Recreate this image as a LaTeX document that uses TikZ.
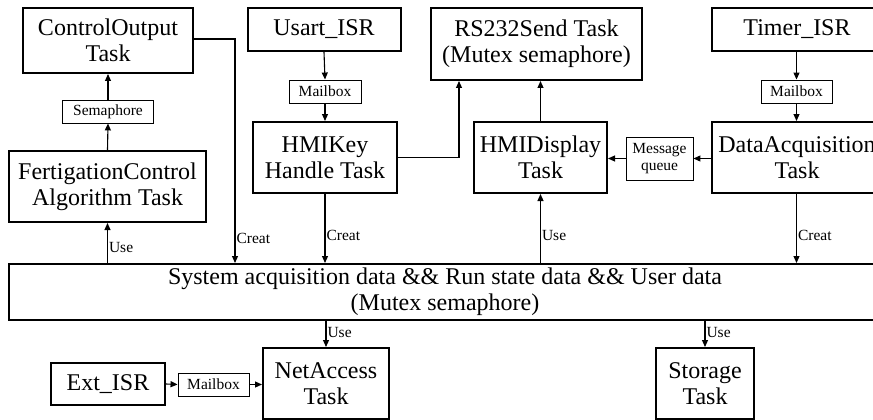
\documentclass[tikz,border=0pt]{standalone}
\usepackage{fontspec}
\setmainfont{Liberation Serif}
\usetikzlibrary{arrows.meta}
\begin{document}
\begin{tikzpicture}[x=1pt,y=-1pt,
  task/.style={draw,line width=2pt,inner sep=0pt,align=center,
    font=\fontsize{24}{26}\selectfont},
  tag/.style={draw,line width=0.9pt,inner sep=0pt,align=center,
    font=\fontsize{15.5}{17}\selectfont},
  arr/.style={line width=1.1pt,-{Triangle[length=7pt,width=6pt]}},
  lbl/.style={anchor=west,inner sep=1pt,font=\fontsize{15.5}{16}\selectfont}]
\clip (0,0) rectangle (873,420);
\useasboundingbox (0,0) rectangle (873,420);

% tasks and interrupt routines
\node[task,minimum width=170pt,minimum height=65pt] (co) at (108,40.5) {ControlOutput\\Task};
\node[task,minimum width=197pt,minimum height=71pt] (fc) at (107.5,186.5) {FertigationControl\\Algorithm Task};
\node[task,minimum width=153pt,minimum height=43pt] (usart) at (324,29.5) {Usart\_ISR};
\node[task,minimum width=144pt,minimum height=71pt] (hk) at (325,157.5) {HMIKey\\Handle Task};
\node[task,minimum width=211pt,minimum height=72pt] (rs) at (536.5,44) {RS232Send Task\\(Mutex semaphore)};
\node[task,minimum width=133pt,minimum height=71pt] (hd) at (540.5,157.5) {HMIDisplay\\Task};
\node[task,minimum width=170pt,minimum height=43pt] (timer) at (797,29.5) {Timer\_ISR};
\node[task,minimum width=170pt,minimum height=71pt] (da) at (797,157.5) {DataAcquisition\\Task};
\node[task,minimum width=872pt,minimum height=56pt] (bar) at (445,292)
  {System acquisition data \&\& Run state data \&\& User data\\(Mutex semaphore)};
\node[task,minimum width=114pt,minimum height=42pt] (ext) at (108,384) {Ext\_ISR};
\node[task,minimum width=126pt,minimum height=71pt] (na) at (326,383.5) {NetAccess\\Task};
\node[task,minimum width=98pt,minimum height=71pt] (st) at (705,383.5) {Storage\\Task};

% communication objects
\node[tag,minimum width=91pt,minimum height=23pt] (sem) at (108,111.5) {Semaphore};
\node[tag,minimum width=72pt,minimum height=23pt] (mb1) at (325,91.5) {Mailbox};
\node[tag,minimum width=71pt,minimum height=23pt] (mb2) at (796.5,91.5) {Mailbox};
\node[tag,minimum width=67pt,minimum height=43pt] (mq) at (659.5,158.5) {Message\\queue};
\node[tag,minimum width=71pt,minimum height=23pt] (mb3) at (213.5,384.5) {Mailbox};

\coordinate (xco) at (235,0);
\coordinate (xhk) at (459,0);

% message flow
\draw[arr] (fc.north) -- (sem.south);
\draw[arr] (sem.north) -- (co.south);
\draw[arr] (usart.south) -- (mb1.north);
\draw[arr] (mb1.south) -- (hk.north);
\draw[arr] (timer.south -| mb2.north) -- (mb2.north);
\draw[arr] (mb2.south) -- (mb2.south |- da.north);
\draw[arr] (da.west |- mq.east) -- (mq.east);
\draw[arr] (mq.west) -- (mq.west -| hd.east);
\draw[arr] (hk.east) -| (xhk |- rs.south);
\draw[arr] (hd.north) -- (hd.north |- rs.south);
\draw[arr] (ext.east) -- (mb3.west);
\draw[arr] (mb3.east) -- (mb3.east -| na.west);

% creation and use of the shared data
\draw[arr] ([yshift=1.5pt]co.east) -| (xco |- bar.north) node[lbl,pos=0.945] {Creat};
\draw[arr] (hk.south) -- (hk.south |- bar.north) node[lbl,pos=0.6] {Creat};
\draw[arr] (mb2.south |- da.south) -- (mb2.south |- bar.north) node[lbl,pos=0.6] {Creat};
\draw[arr] (fc.south |- bar.north) -- (fc.south) node[lbl,pos=0.4] {Use};
\draw[arr] (hd.south |- bar.north) -- (hd.south) node[lbl,pos=0.4] {Use};
\draw[arr] (bar.south -| na.north) -- (na.north) node[lbl,pos=0.45] {Use};
\draw[arr] (bar.south -| st.north) -- (st.north) node[lbl,pos=0.45] {Use};
\end{tikzpicture}
\end{document}
